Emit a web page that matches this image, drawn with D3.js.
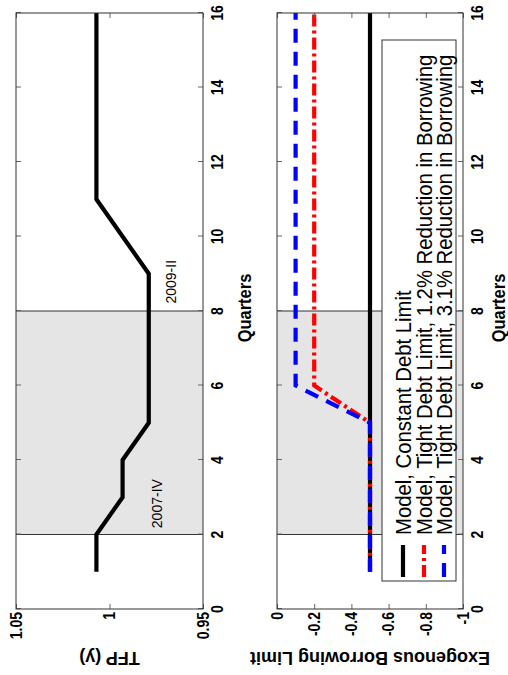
<!DOCTYPE html>
<html><head><meta charset="utf-8">
<script src="https://cdn.jsdelivr.net/npm/d3@7"></script>
<style>body{margin:0;background:#fff}</style>
</head><body>
<svg id="c" width="508" height="675"></svg>
<script>
// ---- data ----
const quarters   = [1,2,3,4,5,6,7,8,9,10,11,12,13,14,15,16];
const tfp        = [1.007,1.007,0.993,0.993,0.979,0.979,0.979,0.979,0.979,0.993,1.007,1.007,1.007,1.007,1.007,1.007];
const constLimit = [-0.5,-0.5,-0.5,-0.5,-0.5,-0.5,-0.5,-0.5,-0.5,-0.5,-0.5,-0.5,-0.5,-0.5,-0.5,-0.5];
const tight12    = [-0.5,-0.5,-0.5,-0.5,-0.5,-0.2,-0.2,-0.2,-0.2,-0.2,-0.2,-0.2,-0.2,-0.2,-0.2,-0.2];
const tight31    = [-0.5,-0.5,-0.5,-0.5,-0.5,-0.1,-0.1,-0.1,-0.1,-0.1,-0.1,-0.1,-0.1,-0.1,-0.1,-0.1];
const quarterTicks  = [0,2,4,6,8,10,12,14,16];
const tfpTicks      = [0.95,1,1.05];
const tfpTickLabels = ["0.95","1","1.05"];
const borTicks      = [-1,-0.8,-0.6,-0.4,-0.2,0];
const borTickLabels = ["-1","-0.8","-0.6","-0.4","-0.2","0"];
const recession     = [2,8];
const annotations   = [["2007-IV",2.17,0.972],["2009-II",8.2,0.9645]];
const legendLabels  = ["Model, Constant Debt Limit",
                       "Model, Tight Debt Limit, 1.2% Reduction in Borrowing",
                       "Model, Tight Debt Limit, 3.1% Reduction in Borrowing"];

// ---- drawing (built in landscape orientation, then rotated) ----
const FONT = "'Liberation Sans', Arial, Helvetica, sans-serif";
const svg = d3.select("#c");
const g = svg.append("g").attr("transform","translate(0,675) rotate(-90)");

function txt(parent, X, Y, s, o){
  return parent.append("text")
    .attr("transform", `translate(${X},${Y}) scale(1,${o.k||1})` + (o.rot?` rotate(${o.rot})`:""))
    .attr("text-anchor", o.anchor||"start")
    .attr("font-family", FONT)
    .attr("font-size", o.size)
    .attr("font-weight", o.weight||"normal")
    .attr("fill", "#000")
    .text(s);
}

const x = d3.scaleLinear().domain([0,16]).range([66,662]);

const panels = [
  {top:16,  bottom:203, domain:[0.95,1.05], ticks:tfpTicks, labels:tfpTickLabels, ylabel:"TFP (y)", xlabY:251},
  {top:277, bottom:463, domain:[-1,0],      ticks:borTicks, labels:borTickLabels, ylabel:"Exogenous Borrowing Limit", xlabY:505}
];

panels.forEach((p,i)=>{
  const y = d3.scaleLinear().domain(p.domain).range([p.bottom,p.top]);
  const pg = g.append("g");
  pg.append("rect").attr("x",66).attr("y",p.top).attr("width",596).attr("height",p.bottom-p.top).attr("fill","#fff");
  pg.append("rect").attr("x",x(recession[0])).attr("y",p.top)
    .attr("width",x(recession[1])-x(recession[0])).attr("height",p.bottom-p.top).attr("fill","#e5e5e5");
  recession.forEach(r=>{
    pg.append("line").attr("x1",x(r)).attr("x2",x(r)).attr("y1",p.top).attr("y2",p.bottom)
      .attr("stroke","#333").attr("stroke-width",1);
  });

  const line = d3.line().x((d,j)=>x(quarters[j])).y(d=>y(d));
  if(i===0){
    pg.append("path").datum(tfp).attr("d",line).attr("fill","none")
      .attr("stroke","#000").attr("stroke-width",4.2).attr("stroke-linejoin","miter");
    annotations.forEach(a=>txt(pg, x(a[1]), y(a[2]), a[0], {size:14}));
  } else {
    pg.append("path").datum(constLimit).attr("d",line).attr("fill","none")
      .attr("stroke","#000").attr("stroke-width",4.2);
    pg.append("path").datum(tight12).attr("d",line).attr("fill","none")
      .attr("stroke","#ff0000").attr("stroke-width",4.2).attr("stroke-dasharray","12,4,3,4");
    pg.append("path").datum(tight31).attr("d",line).attr("fill","none")
      .attr("stroke","#0000ff").attr("stroke-width",4.2).attr("stroke-dasharray","14,9");
  }

  // ticks (inward on all four sides)
  const tk = s=>s.call(a=>a.select(".domain").remove()).call(a=>a.selectAll("line").attr("stroke","#666"));
  pg.append("g").attr("transform",`translate(0,${p.bottom})`)
    .call(d3.axisBottom(x).tickValues(quarterTicks).tickSize(-5).tickSizeOuter(0).tickFormat("")).call(tk);
  pg.append("g").attr("transform",`translate(0,${p.top})`)
    .call(d3.axisTop(x).tickValues(quarterTicks).tickSize(-5).tickSizeOuter(0).tickFormat("")).call(tk);
  pg.append("g").attr("transform",`translate(66,0)`)
    .call(d3.axisLeft(y).tickValues(p.ticks).tickSize(-5).tickSizeOuter(0).tickFormat("")).call(tk);
  pg.append("g").attr("transform",`translate(662,0)`)
    .call(d3.axisRight(y).tickValues(p.ticks).tickSize(-5).tickSizeOuter(0).tickFormat("")).call(tk);

  pg.append("rect").attr("x",66).attr("y",p.top).attr("width",596).attr("height",p.bottom-p.top)
    .attr("fill","none").attr("stroke","#333").attr("stroke-width",1);

  // tick labels
  quarterTicks.forEach(q=>txt(pg, x(q), p.bottom+20, String(q), {size:14, weight:"bold", anchor:"middle", k:1.15}));
  p.ticks.forEach((t,j)=>txt(pg, 63, y(t)+5.8, p.labels[j], {size:14, weight:"bold", anchor:"end", k:1.15}));

  // axis labels
  txt(pg, x(8)+3, p.xlabY, "Quarters", {size:16.5, weight:"bold", anchor:"middle", k:1.1});
  txt(pg, 23, (p.top+p.bottom)/2, p.ylabel, {size:18, weight:"bold", anchor:"middle", rot:-90});
});

// legend
const lg = g.append("g");
lg.append("rect").attr("x",94).attr("y",382).attr("width",541).attr("height",74)
  .attr("fill","#fff").attr("stroke","#333").attr("stroke-width",1);
const styles = [
  {c:"#000", d:null},
  {c:"#ff0000", d:"12,4,3,4"},
  {c:"#0000ff", d:"14,9"}
];
const legendBase = [411, 432, 452];
legendLabels.forEach((s,i)=>{
  lg.append("line").attr("x1",98).attr("x2",130).attr("y1",legendBase[i]-8).attr("y2",legendBase[i]-8)
    .attr("stroke",styles[i].c).attr("stroke-width",4.2).attr("stroke-dasharray",styles[i].d);
  txt(lg, 140, legendBase[i], s, {size:20.3, k:1.05});
});
</script>
</body></html>
